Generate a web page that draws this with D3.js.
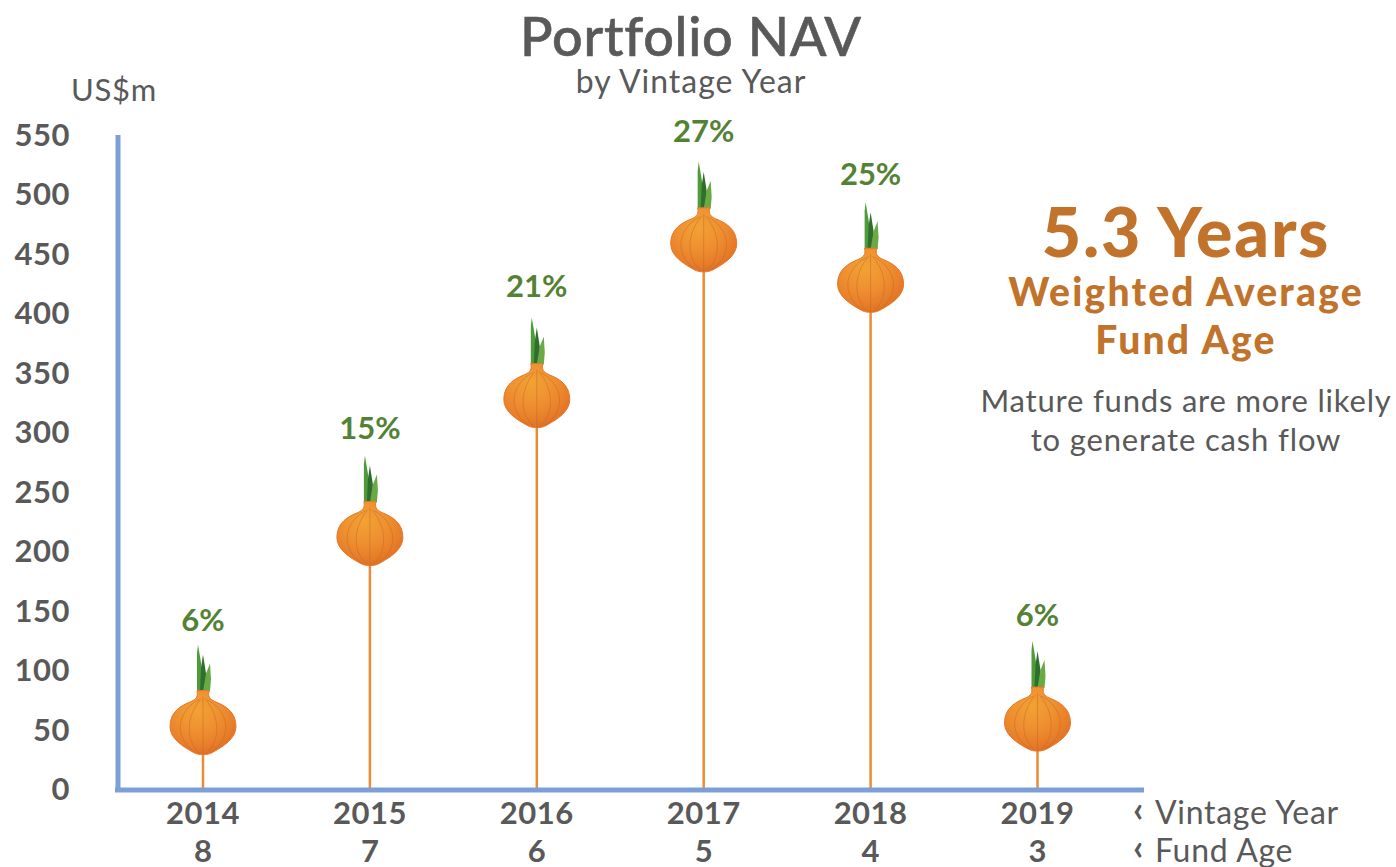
<!DOCTYPE html>
<html><head><meta charset="utf-8">
<script src="https://cdn.jsdelivr.net/npm/d3@7"></script>
<style>html,body{margin:0;background:#fff}svg{display:block}text{font-family:Lato,sans-serif;fill:#595959}</style>
</head><body><svg id="c" width="1396" height="867"></svg>
<script>
const vintageYears=["2014","2015","2016","2017","2018","2019"];
const fundAges=["8","7","6","5","4","3"];
const navValues=[55,214,330,461,427,58];
const shareLabels=["6%","15%","21%","27%","25%","6%"];
const shareLevels=[142,304,423,553,517,146];
const yTicks=[0,50,100,150,200,250,300,350,400,450,500,550];

const svg=d3.select("#c");
const x=d3.scalePoint().domain(vintageYears).range([203,1037.5]);
const y=d3.scaleLinear().domain([0,550]).range([789,135]);
const defs=svg.append("defs");
const g1=defs.append("radialGradient").attr("id","bulb").attr("cx","0.42").attr("cy","0.3").attr("r","0.75");
g1.append("stop").attr("offset","0").attr("stop-color","#f2a235");
g1.append("stop").attr("offset","0.45").attr("stop-color","#ef9030");
g1.append("stop").attr("offset","0.75").attr("stop-color","#e87f2a");
g1.append("stop").attr("offset","1").attr("stop-color","#df6c22");
const onion=defs.append("g").attr("id","onion");
onion.append("path").attr("d","M-6,-32 L-6,-70 L-5,-79 L-1,-55 L0,-32 Z").attr("fill","#4f9a3b");
onion.append("path").attr("d","M-3,-32 L-2,-55 L0,-69 L3,-50 L3,-32Z").attr("fill","#2f6f2c");
onion.append("path").attr("d","M0,-32 L3,-50 L7,-60 L8,-44 L7,-32Z").attr("fill","#6aaa45");
onion.append("path").attr("d","M-6,-33 C-5,-27 -6,-25 -12,-22 C-22,-18 -33,-12 -33,3 C-33,15 -20,23 -11,28 C-6,31 -3,31 0,31 C3,31 6,31 11,28 C20,23 33,15 33,3 C33,-12 22,-18 12,-22 C6,-25 5,-27 6,-33 Z").attr("fill","url(#bulb)").attr("stroke","#e8782a").attr("stroke-width",1);
["M-4,-24 C-24,-14 -32,12 -8,29","M4,-24 C24,-14 32,12 8,29","M-2,-25 C-18,-6 -17,18 -3,30","M2,-25 C18,-6 17,18 3,30","M0,-27 L0,31"].forEach(d=>
  onion.append("path").attr("d",d).attr("fill","none").attr("stroke","#b9682a").attr("stroke-width",0.6).attr("opacity",0.75));

svg.selectAll("line.stem").data(vintageYears).join("line").attr("class","stem")
  .attr("x1",d=>x(d)).attr("x2",d=>x(d))
  .attr("y1",(d,i)=>y(navValues[i])).attr("y2",y(0))
  .attr("stroke","#ed8b35").attr("stroke-width",2.5);
svg.selectAll("use.o").data(vintageYears).join("use").attr("class","o").attr("href","#onion")
  .attr("x",d=>x(d)).attr("y",(d,i)=>y(navValues[i]));
svg.selectAll("text.share").data(vintageYears).join("text").attr("class","share")
  .attr("x",d=>x(d)).attr("y",(d,i)=>y(shareLevels[i])+11)
  .attr("text-anchor","middle").attr("font-size",31).attr("font-weight",700)
  .style("fill","#548235").text((d,i)=>shareLabels[i]);
const ax=svg.append("g");
ax.append("line").attr("x1",118).attr("x2",118).attr("y1",135).attr("y2",792).attr("stroke","#7c9fd6").attr("stroke-width",5);
ax.append("line").attr("x1",115).attr("x2",1144).attr("y1",790).attr("y2",790).attr("stroke","#7c9fd6").attr("stroke-width",5);
svg.selectAll("text.yt").data(yTicks).join("text").attr("class","yt")
  .attr("x",70).attr("y",d=>y(d)+11).attr("text-anchor","end")
  .attr("font-size",31).attr("font-weight",700).style("letter-spacing","0.5px").text(d=>d);
svg.selectAll("text.xa").data(vintageYears).join("text").attr("class","xa")
  .attr("x",d=>x(d)).attr("y",824).attr("text-anchor","middle").attr("font-size",31).attr("font-weight",700).style("letter-spacing","0.5px").text(d=>d);
svg.selectAll("text.xb").data(vintageYears).join("text").attr("class","xb")
  .attr("x",d=>x(d)).attr("y",862).attr("text-anchor","middle").attr("font-size",31).attr("font-weight",700).text((d,i)=>fundAges[i]);
const T=(t,xp,yp,s,w,ls,col,a)=>svg.append("text").attr("x",xp).attr("y",yp).attr("font-size",s).attr("font-weight",w).attr("text-anchor",a||"middle").style("letter-spacing",ls+"px").style("fill",col||"#595959").text(t);
T("Portfolio NAV",691,56,54,500,0.7).style("stroke","#595959").style("stroke-width",0.6);
T("by Vintage Year",691,93,32,400,1);
T("US$m",71,101,31,400,0.7,null,"start");
T("‹",1133,822,36,700,0,null,"start");
T("‹",1133,860,36,700,0,null,"start");
T("Vintage Year",1155,824,32,400,0.7,null,"start");
T("Fund Age",1155,862,32,400,0.7,null,"start");
T("5.3 Years",1186,257,68,900,1.8,"#c1732b");
T("Weighted Average",1186,306,39,900,2.2,"#c1732b");
T("Fund Age",1186,354,39,900,2.2,"#c1732b");
T("Mature funds are more likely",1186,412,31,400,0.8);
T("to generate cash flow",1186,451,31,400,0.85);
</script></body></html>
